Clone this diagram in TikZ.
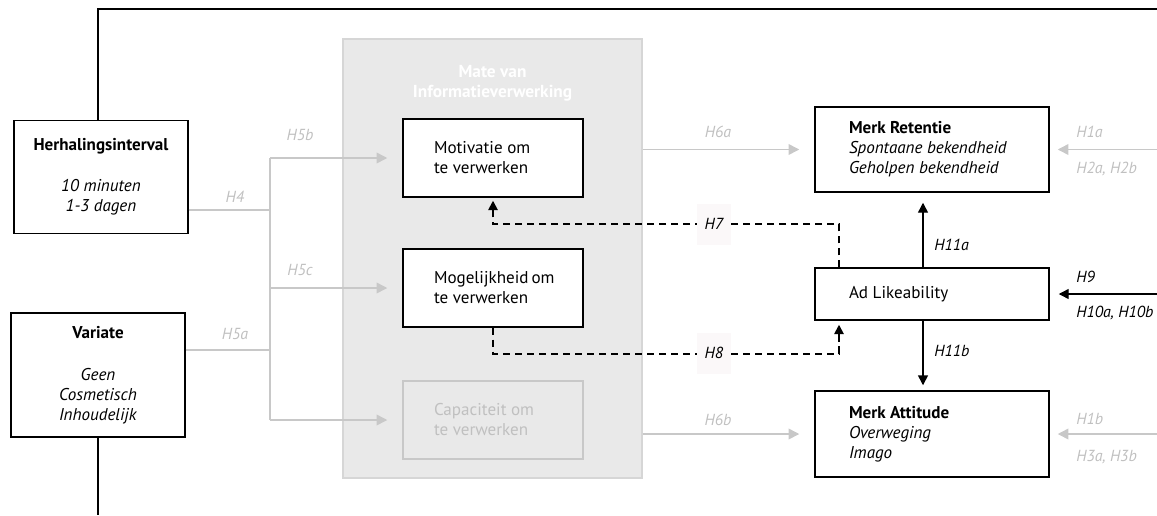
\documentclass[tikz,border=0pt]{standalone}
\usepackage{fontspec}
\setmainfont{PT Sans}
\usetikzlibrary{arrows.meta}
\usetikzlibrary{calc}

\definecolor{greyline}{RGB}{200,200,200}
\definecolor{greytext}{RGB}{192,192,192}
\definecolor{greyfill}{RGB}{233,233,233}
\definecolor{greyedge}{RGB}{214,214,214}
\definecolor{labelfill}{RGB}{251,248,249}

\tikzset{
  varbox/.style={draw, line width=1.1pt, fill=white, align=center, inner sep=0pt, font=\fontsize{12.8}{15}\selectfont},
  procbox/.style={draw, line width=1.1pt, fill=white, inner sep=0pt, minimum width=135pt, minimum height=58.5pt, font=\fontsize{12.8}{15}\selectfont},
  outbox/.style={draw, line width=1.1pt, fill=white, inner sep=0pt, minimum width=175.5pt, font=\fontsize{12.8}{15}\selectfont},
  greylab/.style={font=\fontsize{12}{14}\selectfont\itshape, text=greytext, inner sep=0.75pt},
  blacklab/.style={font=\fontsize{12}{14}\selectfont\itshape, inner sep=0.75pt},
  greyconn/.style={draw=greyline, line width=1.1pt},
  greyarrow/.style={greyconn, -{Triangle[length=8pt,width=8pt]}},
  blackarrow/.style={line width=1.1pt, -{Triangle[length=7.5pt,width=7.5pt]}},
  dashconn/.style={line width=1.3pt, dash pattern=on 5.5pt off 3.5pt, -{Triangle[length=7pt,width=7pt]}},
  outline/.style={line width=1.1pt}
}
% left-aligned block of fixed width inside a box
\newcommand{\procblock}[1]{\parbox{88.5pt}{\raggedright #1}}
\newcommand{\outblock}[1]{\parbox{124.5pt}{\raggedright #1}}

\begin{document}
\begin{tikzpicture}[x=0.75pt,y=0.75pt,yscale=-1,xscale=1]
\useasboundingbox (0,0) rectangle (1157,515);

%Shape: Rectangle [grey block]
\node[draw=greyedge, fill=greyfill, line width=0.9pt, minimum width=224.25pt, minimum height=329.25pt, inner sep=0pt] (info) at (492.5,258.5) {};
% Text Node
\node[text=white, align=center, font=\fontsize{13}{15}\selectfont\bfseries] (infotitle) at (492.5,83) {Mate van\\Informatieverwerking};

%Shape: Rectangle [inputs]
\node[varbox, minimum width=130.5pt, minimum height=84.75pt] (herh) at (101,177) {\textbf{Herhalingsinterval}\\[16pt]\textit{10 minuten}\\\textit{1-3 dagen}};
\node[varbox, minimum width=130.5pt, minimum height=93pt] (vari) at (98,375) {\textbf{Variate}\\[16.5pt]\textit{Geen}\\\textit{Cosmetisch}\\\textit{Inhoudelijk}};

%Shape: Rectangle [processing]
\node[procbox] (motiv) at (493,158) {\procblock{Motivatie om\\te verwerken}};
\node[procbox] (mog) at (493,288) {\procblock{Mogelijkheid~om\\te verwerken}};
\node[procbox, draw=greyline, fill=none, text=greytext] (capa) at (493,420) {\procblock{Capaciteit om\\te verwerken}};

%Shape: Rectangle [outputs]
\node[outbox, minimum height=63.75pt] (ret) at (932,149.5) {\outblock{\textbf{Merk Retentie}\\\textit{Spontaane bekendheid}\\\textit{Geholpen bekendheid}}};
\node[outbox, minimum height=39pt] (lik) at (932,294) {\outblock{Ad Likeability}};
\node[outbox, minimum height=64.5pt] (att) at (932,434) {\outblock{\textbf{Merk Attitude}\\\textit{Overweging}\\\textit{Imago}}};

% helper coordinates
\coordinate (lx) at (98,0);
\coordinate (topr) at (1157,9);
\coordinate (bot) at (0,515);
\coordinate (redge) at (1157,0);
\coordinate (h4) at (270,210);
\coordinate (h5a) at (270,350);
\coordinate (h11) at (923,0);
\coordinate (dx) at (839,0);

%Straight Lines [outer frame]
\draw[outline] (lx |- herh.north) |- (topr);
\draw[outline] (lx |- vari.south) -- (lx |- bot);

%Straight Lines [grey inputs]
\draw[greyconn] (herh.east |- h4) -- (h4);
\draw[greyconn] (vari.east |- h5a) -- (h5a);
\draw[greyconn] (h4 |- motiv.west) -- (h4 |- capa.west);
\draw[greyarrow] (h4 |- motiv.west) -- ($(motiv.west)+(-15,0)$);
\draw[greyarrow] (h4 |- mog.west) -- ($(mog.west)+(-15,0)$);
\draw[greyarrow] (h4 |- capa.west) -- ($(capa.west)+(-15,0)$);

%Straight Lines [grey outputs]
\draw[greyarrow] (info.east |- ret.west) -- ($(ret.west)+(-15,0)$);
\draw[greyarrow] (info.east |- att.west) -- ($(att.west)+(-15,0)$);
\draw[greyarrow] (redge |- ret.east) -- ($(ret.east)+(8,0)$);
\draw[greyarrow] (redge |- att.east) -- ($(att.east)+(8,0)$);

%Straight Lines [black]
\draw[blackarrow] (redge |- lik.east) -- ($(lik.east)+(9,0)$);
\draw[blackarrow] (h11 |- lik.north) -- ($(h11 |- ret.south)+(0,10)$);
\draw[blackarrow] (h11 |- lik.south) -- ($(h11 |- att.north)+(0,-5)$);

%Dashed Lines
\draw[dashconn] (dx |- lik.north) -- ($(dx |- lik.north)+(0,-43)$) -| ($(motiv.south)+(0,3)$);
\draw[dashconn] (mog.south) -- ++(0,26) -| ($(dx |- lik.south)+(0,4)$);

% Text Node
\node[greylab] (lh5b) at (300,135) {H5b};
\node[greylab] (lh4) at (235,197) {H4};
\node[greylab] (lh5c) at (300,270) {H5c};
\node[greylab] (lh5a) at (235,334) {H5a};
\node[greylab] (lh6a) at (718,132) {H6a};
\node[greylab] (lh6b) at (718,420) {H6b};
\node[greylab, anchor=west] (lh1a) at (1075,132) {H1a};
\node[greylab, anchor=west] (lh2) at (1075,169) {H2a, H2b};
\node[greylab, anchor=west] (lh1b) at (1075,419) {H1b};
\node[greylab, anchor=west] (lh3) at (1075,457) {H3a, H3b};
\node[blacklab, anchor=west] (lh9) at (1075,277) {H9};
\node[blacklab, anchor=west] (lh10) at (1075,313) {H10a, H10b};
\node[blacklab, anchor=west] (lh11a) at (933,245) {H11a};
\node[blacklab, anchor=west] (lh11b) at (933,351) {H11b};
\node[blacklab, fill=labelfill, minimum width=25.5pt, minimum height=30.75pt] (lh7) at (714,224) {H7};
\node[blacklab, fill=labelfill, minimum width=25.5pt, minimum height=30.75pt] (lh8) at (714,353) {H8};

\end{tikzpicture}
\end{document}
